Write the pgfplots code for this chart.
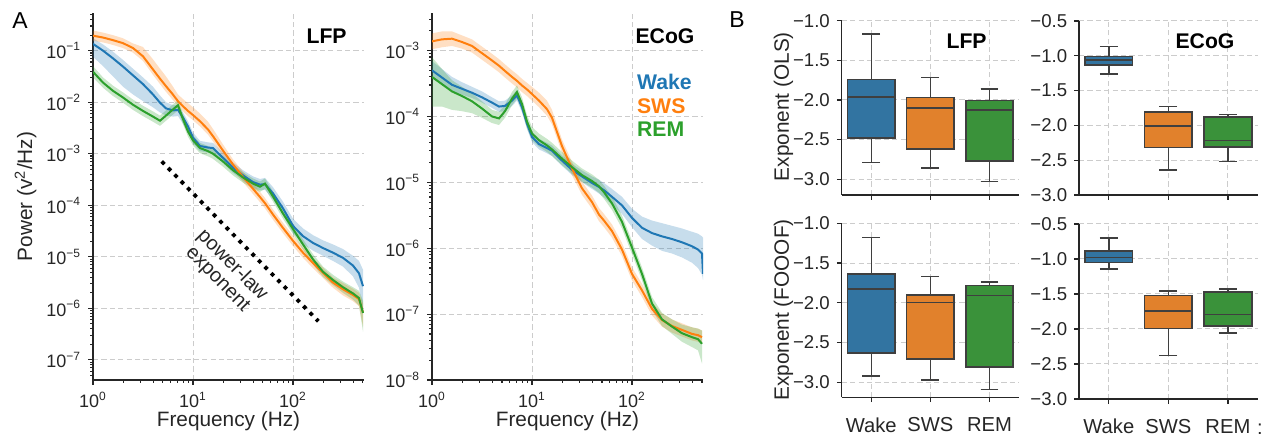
\documentclass[border=0pt]{standalone}
\usepackage{fontspec}
\setmainfont{Liberation Sans}
\usepackage{pgfplots}
\pgfplotsset{compat=1.18}
\usepackage{pgfplotstable}
\usepgfplotslibrary{fillbetween,statistics}
\definecolor{cW}{HTML}{1F77B4}
\definecolor{cS}{HTML}{FF7F0E}
\definecolor{cR}{HTML}{2CA02C}
\definecolor{bW}{HTML}{3274A1}
\definecolor{bS}{HTML}{E1812C}
\definecolor{bR}{HTML}{3A923A}
\definecolor{edge}{HTML}{3F3F3F}
\definecolor{spine}{HTML}{262626}
\definecolor{gridc}{HTML}{CCCCCC}

% log10(frequency), log10(power), band low, band high
\pgfplotstableread{
lf y lo hi
0.00 -0.87 -1.12 -0.76
0.10 -1.00 -1.30 -0.88
0.20 -1.15 -1.50 -1.02
0.30 -1.31 -1.70 -1.18
0.40 -1.48 -1.85 -1.35
0.50 -1.65 -1.98 -1.52
0.60 -1.85 -2.10 -1.70
0.67 -2.01 -2.20 -1.87
0.73 -2.12 -2.26 -2.00
0.80 -2.16 -2.28 -2.06
0.85 -2.15 -2.27 -2.05
0.90 -2.30 -2.42 -2.20
0.95 -2.47 -2.59 -2.37
1.00 -2.69 -2.80 -2.59
1.07 -2.85 -2.95 -2.75
1.15 -2.88 -2.98 -2.78
1.20 -2.89 -2.99 -2.79
1.30 -3.08 -3.18 -2.98
1.40 -3.27 -3.37 -3.17
1.50 -3.42 -3.52 -3.32
1.60 -3.55 -3.66 -3.44
1.67 -3.60 -3.71 -3.49
1.72 -3.59 -3.70 -3.47
1.80 -3.77 -3.89 -3.65
1.90 -4.06 -4.19 -3.93
2.00 -4.40 -4.54 -4.26
2.10 -4.60 -4.75 -4.45
2.20 -4.73 -4.88 -4.58
2.30 -4.83 -4.98 -4.68
2.40 -4.92 -5.08 -4.76
2.50 -5.02 -5.19 -4.85
2.60 -5.17 -5.38 -4.98
2.66 -5.32 -5.60 -5.08
2.70 -5.57 -6.05 -5.25
}\lfpW
\pgfplotstableread{
lf y lo hi
0.00 -0.71 -0.81 -0.61
0.10 -0.746 -0.84 -0.65
0.20 -0.797 -0.89 -0.70
0.30 -0.855 -0.95 -0.76
0.40 -0.95 -1.04 -0.86
0.50 -1.11 -1.20 -0.93
0.60 -1.366 -1.47 -1.17
0.67 -1.545 -1.65 -1.35
0.73 -1.69 -1.80 -1.50
0.80 -1.853 -1.96 -1.70
0.85 -1.982 -2.08 -1.85
0.90 -2.08 -2.18 -1.94
0.95 -2.17 -2.27 -2.02
1.00 -2.25 -2.35 -2.10
1.07 -2.37 -2.47 -2.22
1.15 -2.53 -2.63 -2.38
1.20 -2.66 -2.76 -2.52
1.30 -2.94 -3.04 -2.82
1.40 -3.21 -3.31 -3.11
1.50 -3.45 -3.55 -3.35
1.60 -3.68 -3.78 -3.58
1.67 -3.84 -3.94 -3.74
1.72 -3.96 -4.06 -3.86
1.80 -4.18 -4.28 -4.08
1.90 -4.44 -4.54 -4.34
2.00 -4.69 -4.79 -4.59
2.10 -4.92 -5.02 -4.82
2.20 -5.12 -5.22 -5.02
2.30 -5.31 -5.41 -5.21
2.40 -5.50 -5.60 -5.40
2.50 -5.63 -5.75 -5.51
2.60 -5.74 -5.86 -5.62
2.66 -5.82 -5.96 -5.70
2.70 -6.08 -6.35 -5.90
}\lfpS
\pgfplotstableread{
lf y lo hi
0.00 -1.41 -1.52 -1.30
0.10 -1.62 -1.72 -1.52
0.20 -1.78 -1.88 -1.68
0.30 -1.91 -2.01 -1.81
0.40 -2.05 -2.15 -1.95
0.50 -2.17 -2.27 -2.07
0.60 -2.28 -2.38 -2.18
0.67 -2.36 -2.46 -2.26
0.73 -2.26 -2.36 -2.16
0.80 -2.14 -2.24 -2.04
0.85 -2.06 -2.16 -1.96
0.90 -2.33 -2.43 -2.23
0.95 -2.57 -2.67 -2.47
1.00 -2.74 -2.84 -2.64
1.07 -2.89 -2.99 -2.79
1.15 -2.95 -3.05 -2.85
1.20 -3.00 -3.10 -2.90
1.30 -3.15 -3.25 -3.05
1.40 -3.32 -3.42 -3.22
1.50 -3.46 -3.56 -3.36
1.60 -3.58 -3.68 -3.48
1.67 -3.64 -3.74 -3.54
1.72 -3.58 -3.68 -3.48
1.80 -3.83 -3.93 -3.73
1.90 -4.16 -4.26 -4.06
2.00 -4.46 -4.56 -4.36
2.10 -4.76 -4.86 -4.66
2.20 -5.05 -5.15 -4.95
2.30 -5.29 -5.39 -5.19
2.40 -5.45 -5.55 -5.35
2.50 -5.59 -5.70 -5.48
2.60 -5.71 -5.83 -5.59
2.66 -5.80 -5.95 -5.66
2.70 -6.09 -6.45 -5.85
}\lfpR
\pgfplotstableread{
lf y lo hi
0.00 -3.30 -3.42 -3.16
0.10 -3.41 -3.52 -3.28
0.20 -3.52 -3.62 -3.40
0.30 -3.58 -3.67 -3.48
0.40 -3.64 -3.72 -3.55
0.50 -3.71 -3.79 -3.62
0.60 -3.79 -3.87 -3.71
0.67 -3.85 -3.93 -3.77
0.73 -3.84 -3.92 -3.76
0.80 -3.76 -3.84 -3.68
0.85 -3.68 -3.76 -3.60
0.90 -3.86 -3.94 -3.78
0.95 -4.11 -4.19 -4.03
1.00 -4.31 -4.39 -4.23
1.07 -4.42 -4.50 -4.34
1.15 -4.48 -4.56 -4.40
1.20 -4.52 -4.60 -4.44
1.30 -4.67 -4.75 -4.59
1.40 -4.81 -4.89 -4.72
1.50 -4.91 -5.00 -4.82
1.60 -5.01 -5.10 -4.91
1.67 -5.07 -5.17 -4.96
1.72 -5.12 -5.23 -5.01
1.80 -5.22 -5.34 -5.10
1.90 -5.35 -5.48 -5.22
2.00 -5.54 -5.68 -5.40
2.10 -5.69 -5.86 -5.52
2.20 -5.77 -5.96 -5.58
2.30 -5.82 -6.04 -5.62
2.40 -5.86 -6.08 -5.66
2.50 -5.91 -6.14 -5.70
2.60 -5.97 -6.22 -5.75
2.66 -6.02 -6.30 -5.78
2.70 -6.08 -6.40 -5.82
2.71 -6.39 -6.48 -5.84
}\ecoW
\pgfplotstableread{
lf y lo hi
0.00 -2.86 -2.98 -2.74
0.10 -2.83 -2.95 -2.71
0.20 -2.82 -2.93 -2.71
0.30 -2.87 -2.97 -2.77
0.40 -2.93 -3.03 -2.83
0.50 -3.04 -3.14 -2.94
0.60 -3.15 -3.25 -3.05
0.67 -3.23 -3.33 -3.13
0.73 -3.31 -3.41 -3.21
0.80 -3.40 -3.50 -3.30
0.85 -3.46 -3.56 -3.36
0.90 -3.53 -3.63 -3.43
0.95 -3.59 -3.69 -3.49
1.00 -3.66 -3.76 -3.55
1.07 -3.76 -3.86 -3.64
1.15 -3.89 -3.99 -3.76
1.20 -4.02 -4.12 -3.90
1.30 -4.45 -4.55 -4.35
1.40 -4.79 -4.89 -4.69
1.50 -5.09 -5.19 -4.99
1.60 -5.30 -5.40 -5.20
1.67 -5.49 -5.59 -5.39
1.72 -5.58 -5.68 -5.48
1.80 -5.74 -5.84 -5.64
1.90 -6.02 -6.12 -5.92
2.00 -6.39 -6.49 -6.29
2.10 -6.64 -6.74 -6.54
2.20 -6.92 -7.02 -6.82
2.30 -7.09 -7.19 -6.99
2.40 -7.18 -7.28 -7.08
2.50 -7.24 -7.34 -7.14
2.60 -7.30 -7.40 -7.20
2.66 -7.32 -7.42 -7.22
2.70 -7.35 -7.45 -7.25
}\ecoS
\pgfplotstableread{
lf y lo hi
0.00 -3.40 -3.85 -3.10
0.10 -3.51 -3.85 -3.28
0.20 -3.62 -3.90 -3.45
0.30 -3.69 -3.92 -3.55
0.40 -3.77 -3.95 -3.65
0.50 -3.88 -4.02 -3.77
0.60 -4.00 -4.10 -3.90
0.67 -4.03 -4.13 -3.93
0.73 -3.92 -4.02 -3.82
0.80 -3.73 -3.83 -3.63
0.85 -3.63 -3.73 -3.53
0.90 -3.81 -3.91 -3.71
0.95 -4.08 -4.18 -3.98
1.00 -4.26 -4.36 -4.16
1.07 -4.36 -4.46 -4.26
1.15 -4.44 -4.54 -4.34
1.20 -4.50 -4.60 -4.40
1.30 -4.64 -4.74 -4.54
1.40 -4.77 -4.87 -4.67
1.50 -4.89 -4.99 -4.79
1.60 -4.98 -5.08 -4.88
1.67 -5.06 -5.16 -4.96
1.72 -5.15 -5.25 -5.05
1.80 -5.32 -5.42 -5.22
1.90 -5.60 -5.70 -5.50
2.00 -5.99 -6.09 -5.89
2.10 -6.39 -6.49 -6.29
2.20 -6.84 -6.94 -6.74
2.30 -7.08 -7.18 -6.98
2.40 -7.19 -7.30 -7.08
2.50 -7.29 -7.42 -7.16
2.60 -7.35 -7.50 -7.20
2.66 -7.38 -7.55 -7.22
2.70 -7.45 -7.75 -7.25
}\ecoR

\newcommand\spectrum[3]{%
  \addplot[name path=#2u, draw=none, forget plot] table[x=lf,y=hi]{#1};
  \addplot[name path=#2d, draw=none, forget plot] table[x=lf,y=lo]{#1};
  \addplot[fill=#3, fill opacity=0.25, draw=none, forget plot] fill between[of=#2u and #2d];
  \addplot[#3, line width=1pt] table[x=lf,y=y]{#1};
}
\newcommand\bx[7]{%
  \addplot[boxplot prepared={draw position=#1, upper whisker=#2, upper quartile=#3,
    median=#4, lower quartile=#5, lower whisker=#6},
    fill=#7, draw=edge, line width=0.75pt, solid] coordinates {};
}

\pgfplotsset{
  base/.style={scale only axis, axis lines=left,
    axis line style={-, spine, line width=0.7pt},
    every outer x axis line/.append style={-},
    every outer y axis line/.append style={-},
    tick align=outside, tick style={spine, line width=0.6pt},
    major tick length=2.4pt, minor tick length=1.4pt,
    grid=major, major grid style={gridc, line width=0.5pt, dash pattern=on 2.6pt off 1.6pt},
    tick label style={font=\fontsize{9}{10}\selectfont, text=spine},
    label style={font=\fontsize{10.4}{12}\selectfont, text=spine}},
  spec/.style={base, width=135.5pt, height=183.5pt,
    xmin=0, xmax=2.71, xtick={0,1,2},
    xticklabels={10\textsuperscript{0},10\textsuperscript{1},10\textsuperscript{2}},
    minor xtick={0.30103,0.47712,0.60206,0.69897,0.77815,0.84510,0.90309,0.95424,
      1.30103,1.47712,1.60206,1.69897,1.77815,1.84510,1.90309,1.95424,
      2.30103,2.47712,2.60206,2.69897},
    xlabel={Frequency (Hz)},
    xlabel style={at={(axis description cs:0.5,-0.112)}, anchor=center}},
  box/.style={base, xmin=-0.5, xmax=2.5, xtick={0,1,2},
    boxplot/draw direction=y, boxplot/box extend=0.8, boxplot/whisker extend=0.3,
    tick label style={font=\fontsize{9.3}{10}\selectfont, text=spine},
    xticklabel style={font=\fontsize{10.1}{12}\selectfont, yshift=-4.2pt}},
}

\begin{document}
\begin{tikzpicture}

% ---------------- A: LFP ----------------
\begin{axis}[spec, at={(46.5pt,29.5pt)}, anchor=south west,
  ymin=-7.39, ymax=-0.27, ytick={-7,-6,-5,-4,-3,-2,-1},
  yticklabels={10\textsuperscript{−7},10\textsuperscript{−6},10\textsuperscript{−5},10\textsuperscript{−4},10\textsuperscript{−3},10\textsuperscript{−2},10\textsuperscript{−1}},
  minor ytick={-7.30103,-7.22185,-7.15490,-7.09691,-7.04576,
    -6.69897,-6.52288,-6.39794,-6.30103,-6.22185,-6.15490,-6.09691,-6.04576,
    -5.69897,-5.52288,-5.39794,-5.30103,-5.22185,-5.15490,-5.09691,-5.04576,
    -4.69897,-4.52288,-4.39794,-4.30103,-4.22185,-4.15490,-4.09691,-4.04576,
    -3.69897,-3.52288,-3.39794,-3.30103,-3.22185,-3.15490,-3.09691,-3.04576,
    -2.69897,-2.52288,-2.39794,-2.30103,-2.22185,-2.15490,-2.09691,-2.04576,
    -1.69897,-1.52288,-1.39794,-1.30103,-1.22185,-1.15490,-1.09691,-1.04576,
    -0.69897,-0.52288,-0.39794,-0.30103},
  ylabel={Power (v\textsuperscript{2}/Hz)},
  ylabel style={at={(axis description cs:-0.249,0.5)}, anchor=center}]
\spectrum{\lfpW}{lw}{cW}
\spectrum{\lfpS}{ls}{cS}
\spectrum{\lfpR}{lr}{cR}
\addplot[black, line width=1.9pt, dash pattern=on 1.9pt off 2.7pt] coordinates {(0.687,-3.15) (2.253,-6.25)};
\node[rotate=-45.6, align=center, font=\fontsize{10}{10.2}\selectfont, text=spine] at (axis cs:1.32,-5.30) {power-law\\exponent};
\end{axis}

% ---------------- A: ECoG ----------------
\begin{axis}[spec, at={(216pt,29.5pt)}, anchor=south west,
  ymin=-8, ymax=-2.43, ytick={-8,-7,-6,-5,-4,-3},
  yticklabels={10\textsuperscript{−8},10\textsuperscript{−7},10\textsuperscript{−6},10\textsuperscript{−5},10\textsuperscript{−4},10\textsuperscript{−3}},
  minor ytick={
    -7.69897,-7.52288,-7.39794,-7.30103,-7.22185,-7.15490,-7.09691,-7.04576,
    -6.69897,-6.52288,-6.39794,-6.30103,-6.22185,-6.15490,-6.09691,-6.04576,
    -5.69897,-5.52288,-5.39794,-5.30103,-5.22185,-5.15490,-5.09691,-5.04576,
    -4.69897,-4.52288,-4.39794,-4.30103,-4.22185,-4.15490,-4.09691,-4.04576,
    -3.69897,-3.52288,-3.39794,-3.30103,-3.22185,-3.15490,-3.09691,-3.04576,
    -2.69897,-2.52288}]
\spectrum{\ecoW}{ew}{cW}
\spectrum{\ecoS}{es}{cS}
\spectrum{\ecoR}{er}{cR}
\end{axis}

% ---------------- B: top left ----------------
\begin{axis}[box, at={(420.85pt,122pt)}, anchor=south west, width=88.65pt, height=87.15pt,
  ymin=-3.2, ymax=-1.0, ytick={-3,-2.5,-2,-1.5,-1},
  yticklabels={−3.0,−2.5,−2.0,−1.5,−1.0}, xticklabels={},
  ylabel={Exponent (OLS)},
  ylabel style={at={(axis description cs:-0.329,0.507)}, anchor=center}]
\bx{0}{-1.17}{-1.74}{-1.96}{-2.48}{-2.79}{bW}
\bx{1}{-1.72}{-1.97}{-2.10}{-2.62}{-2.86}{bS}
\bx{2}{-1.86}{-2.01}{-2.13}{-2.77}{-3.03}{bR}
\end{axis}

% ---------------- B: top right ----------------
\begin{axis}[box, at={(539.5pt,122pt)}, anchor=south west, width=89.35pt, height=87pt,
  ymin=-3.0, ymax=-0.5, ytick={-3,-2.5,-2,-1.5,-1,-0.5},
  yticklabels={−3.0,−2.5,−2.0,−1.5,−1.0,−0.5}, xticklabels={}]
\bx{0}{-0.87}{-1.01}{-1.06}{-1.13}{-1.26}{bW}
\bx{1}{-1.73}{-1.81}{-2.01}{-2.32}{-2.64}{bS}
\bx{2}{-1.84}{-1.88}{-2.22}{-2.31}{-2.52}{bR}
\end{axis}

% ---------------- B: bottom left ----------------
\begin{axis}[box, at={(420.85pt,20.85pt)}, anchor=south west, width=88.65pt, height=87pt,
  ymin=-3.19, ymax=-1.0, ytick={-3,-2.5,-2,-1.5,-1},
  yticklabels={−3.0,−2.5,−2.0,−1.5,−1.0}, xticklabels={Wake,SWS,REM},
  ylabel={Exponent (FOOOF)},
  ylabel style={at={(axis description cs:-0.329,0.502)}, anchor=center}]
\bx{0}{-1.18}{-1.64}{-1.83}{-2.63}{-2.92}{bW}
\bx{1}{-1.67}{-1.90}{-2.00}{-2.71}{-2.97}{bS}
\bx{2}{-1.74}{-1.78}{-1.91}{-2.81}{-3.09}{bR}
\end{axis}

% ---------------- B: bottom right ----------------
\begin{axis}[box, at={(539.5pt,20pt)}, anchor=south west, width=89.35pt, height=87.5pt,
  ymin=-3.0, ymax=-0.5, ytick={-3,-2.5,-2,-1.5,-1,-0.5},
  yticklabels={−3.0,−2.5,−2.0,−1.5,−1.0,−0.5}, xticklabels={Wake,SWS,REM}]
\bx{0}{-0.70}{-0.886}{-0.98}{-1.05}{-1.14}{bW}
\bx{1}{-1.46}{-1.52}{-1.74}{-1.99}{-2.38}{bS}
\bx{2}{-1.43}{-1.47}{-1.79}{-1.96}{-2.06}{bR}
\end{axis}

% ---------------- annotations ----------------
\node[font=\fontsize{11.5}{12}\selectfont, text=black] at (10pt,209.2pt) {A};
\node[font=\fontsize{11.5}{12}\selectfont, text=black] at (368.5pt,209.5pt) {B};
\node[font=\bfseries\fontsize{10.6}{12}\selectfont] at (163.3pt,201.6pt) {LFP};
\node[font=\bfseries\fontsize{10.6}{12}\selectfont] at (332.5pt,201.6pt) {ECoG};
\node[font=\bfseries\fontsize{10.6}{12}\selectfont, text=cW, anchor=west, inner sep=0pt] at (318.35pt,178.65pt) {Wake};
\node[font=\bfseries\fontsize{10.6}{12}\selectfont, text=cS, anchor=west, inner sep=0pt] at (318.35pt,166.5pt) {SWS};
\node[font=\bfseries\fontsize{10.6}{12}\selectfont, text=cR, anchor=west, inner sep=0pt] at (318.35pt,154.65pt) {REM};
\node[font=\bfseries\fontsize{10.6}{12}\selectfont] at (483.3pt,198.65pt) {LFP};
\node[font=\bfseries\fontsize{10.6}{12}\selectfont] at (602.5pt,198.65pt) {ECoG};
\node[font=\fontsize{10}{12}\selectfont, text=spine, inner sep=0pt] at (630pt,5pt) {:};

\pgfresetboundingbox
\useasboundingbox (0,0) rectangle (635.5pt,219.5pt);
\end{tikzpicture}
\end{document}
